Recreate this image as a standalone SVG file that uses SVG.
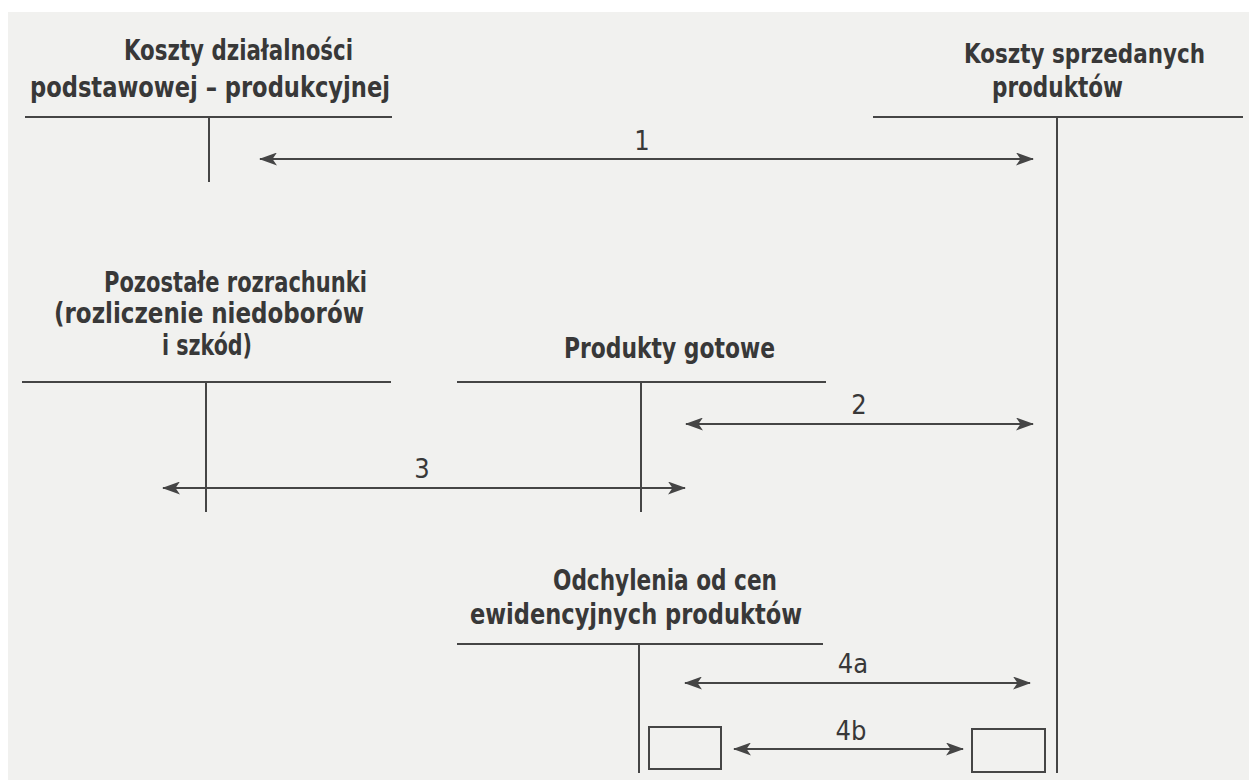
<svg xmlns="http://www.w3.org/2000/svg" width="1249" height="780" viewBox="0 0 1249 780">
  <defs>
    <style>
      .t { font-family: "DejaVu Sans Condensed", "DejaVu Sans", "Liberation Sans", sans-serif; font-weight: bold; font-size: 28.5px; fill: #383838; font-stretch: condensed; text-anchor: middle; }
      .n { font-family: "DejaVu Sans Condensed", "DejaVu Sans", "Liberation Sans", sans-serif; font-size: 27px; fill: #383838; text-anchor: middle; font-stretch: condensed; }
      .ln { stroke: #454545; stroke-width: 2; fill: none; }
      .ar { stroke: #454545; stroke-width: 2; fill: none; marker-start: url(#ah); marker-end: url(#ah); }
      .bx { stroke: #454545; stroke-width: 2; fill: none; }
    </style>
    <marker id="ah" viewBox="0 0 18 13" refX="17" refY="6.5" markerWidth="18" markerHeight="13" markerUnits="userSpaceOnUse" orient="auto-start-reverse">
      <path d="M0,0 L18,6.5 L0,13 L4.5,6.5 Z" fill="#454545"/>
    </marker>
  </defs>
  <rect x="0" y="0" width="1249" height="780" fill="#ffffff"/>
  <rect x="8" y="12" width="1241" height="768" fill="#f1f1ef"/>

  <g id="konto-koszty-dzialalnosci">
    <text class="t" x="238.5" y="60" textLength="229" lengthAdjust="spacingAndGlyphs">Koszty działalności</text>
    <text class="t" x="210" y="97" textLength="360" lengthAdjust="spacingAndGlyphs">podstawowej – produkcyjnej</text>
    <line class="ln" x1="25" y1="117" x2="392" y2="117"/>
    <line class="ln" x1="209" y1="117" x2="209" y2="182"/>
  </g>

  <g id="konto-koszty-sprzedanych">
    <text class="t" x="1084.5" y="63" textLength="241" lengthAdjust="spacingAndGlyphs" style="font-size:26px">Koszty sprzedanych</text>
    <text class="t" x="1057.5" y="97" textLength="131" lengthAdjust="spacingAndGlyphs">produktów</text>
    <line class="ln" x1="873" y1="117" x2="1243" y2="117"/>
    <line class="ln" x1="1057" y1="117" x2="1057" y2="773"/>
  </g>

  <g id="konto-pozostale-rozrachunki">
    <text class="t" x="235.5" y="292" textLength="263" lengthAdjust="spacingAndGlyphs">Pozostałe rozrachunki</text>
    <text class="t" x="209" y="323" textLength="310" lengthAdjust="spacingAndGlyphs">(rozliczenie niedoborów</text>
    <text class="t" x="207" y="355" textLength="90" lengthAdjust="spacingAndGlyphs">i szkód)</text>
    <line class="ln" x1="22" y1="382" x2="391" y2="382"/>
    <line class="ln" x1="206" y1="382" x2="206" y2="512"/>
  </g>

  <g id="konto-produkty-gotowe">
    <text class="t" x="669.5" y="358" textLength="211" lengthAdjust="spacingAndGlyphs">Produkty gotowe</text>
    <line class="ln" x1="457" y1="382" x2="826" y2="382"/>
    <line class="ln" x1="641" y1="382" x2="641" y2="512"/>
  </g>

  <g id="konto-odchylenia">
    <text class="t" x="665" y="590" textLength="224" lengthAdjust="spacingAndGlyphs">Odchylenia od cen</text>
    <text class="t" x="636" y="624" textLength="332" lengthAdjust="spacingAndGlyphs">ewidencyjnych produktów</text>
    <line class="ln" x1="457" y1="644" x2="823" y2="644"/>
    <line class="ln" x1="639" y1="644" x2="639" y2="773"/>
  </g>

  <g id="box-lewy">
    <rect class="bx" x="649" y="727" width="72" height="42"/>
  </g>
  <g id="box-prawy">
    <rect class="bx" x="972" y="729" width="73" height="43"/>
  </g>

  <g id="connectors">
    <line class="ar" x1="260" y1="159" x2="1033" y2="159"/>
    <text class="n" x="642" y="150">1</text>
    <line class="ar" x1="686" y1="424" x2="1033" y2="424"/>
    <text class="n" x="859" y="414">2</text>
    <line class="ar" x1="163" y1="488" x2="685" y2="488"/>
    <text class="n" x="422" y="478">3</text>
    <line class="ar" x1="685" y1="683" x2="1030" y2="683"/>
    <text class="n" x="853" y="673">4a</text>
    <line class="ar" x1="734" y1="749" x2="963" y2="749"/>
    <text class="n" x="851" y="740">4b</text>
  </g>
</svg>
